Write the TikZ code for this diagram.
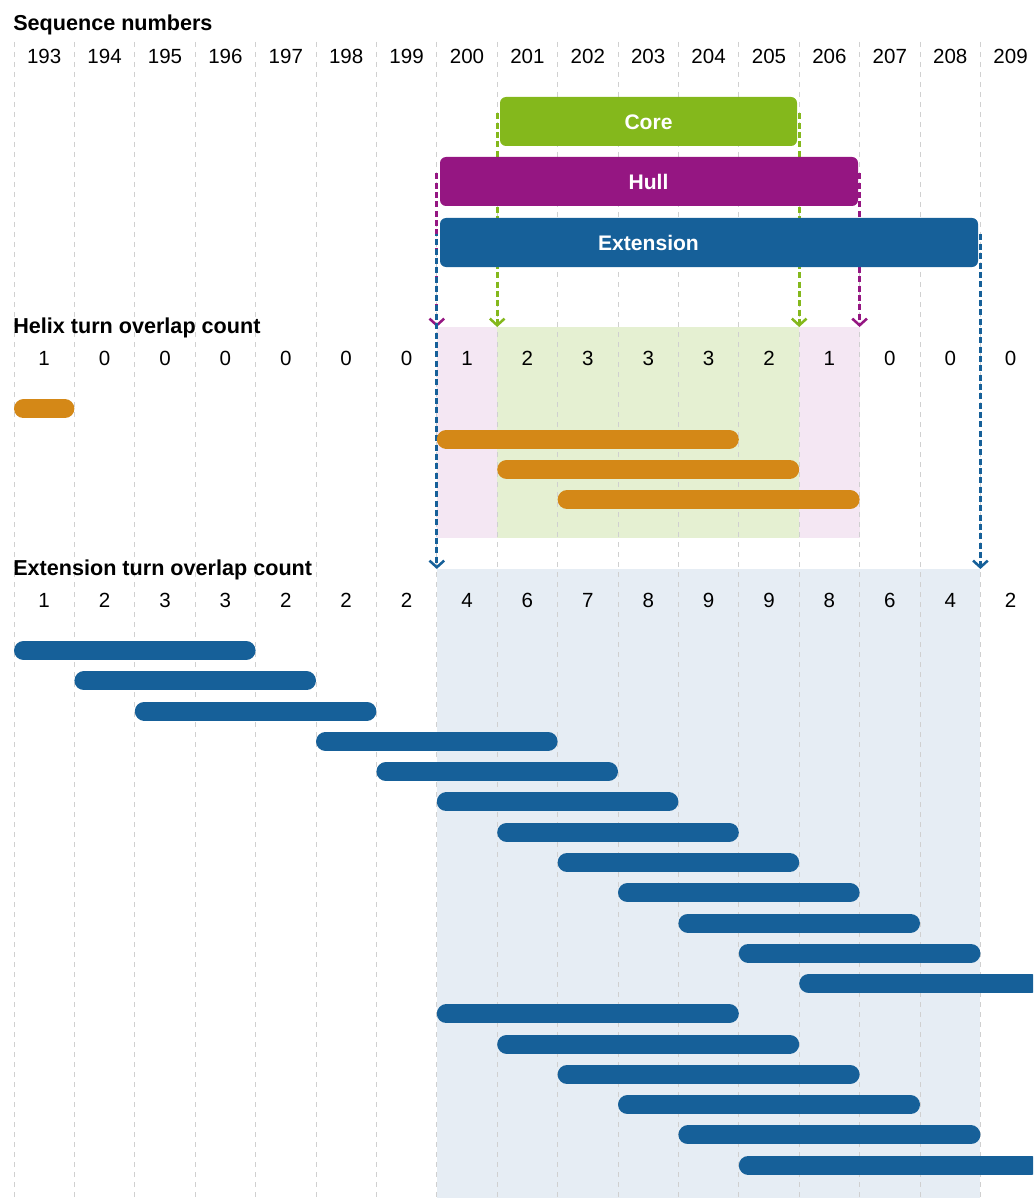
\documentclass[tikz,border=0pt]{standalone}
\usepackage{fontspec}
\setmainfont{Liberation Sans}
\usetikzlibrary{arrows.meta}

\definecolor{corecol}{HTML}{84B81C}
\definecolor{hullcol}{HTML}{951682}
\definecolor{extcol}{HTML}{166099}
\definecolor{helixcol}{HTML}{D48817}
\definecolor{coreshade}{HTML}{E5F0D2}
\definecolor{hullshade}{HTML}{F4E7F3}
\definecolor{extshade}{HTML}{E6EDF4}
\definecolor{gridcol}{HTML}{D0D0D0}

\pgfdeclarelayer{back}
\pgfsetlayers{back,main}

\begin{document}
\begin{tikzpicture}[
        x=0.75pt, y=-0.75pt,
        gridline/.style={gridcol, line width=0.75pt, dash pattern=on 3.4pt off 4.1pt},
        heading/.style={anchor=base west, inner sep=0pt, font=\fontsize{16.2}{19}\selectfont\bfseries},
        num/.style={anchor=base, inner sep=0pt, font=\fontsize{15.4}{19}\selectfont},
        region/.style={rounded corners=4.5pt, minimum height=36.75pt, inner sep=0pt},
        regionlabel/.style={anchor=base, inner sep=0pt, text=white, font=\fontsize{15.8}{19}\selectfont\bfseries},
        marker/.style={line width=2.5pt, dash pattern=on 4.5pt off 2.5pt, -{Straight Barb[length=5pt, width=11pt, line width=1.9pt]}},
        turn/.style={line width=14.25pt, line cap=round}
    ]
 \useasboundingbox (0,0) rectangle (1033,1198);
 \clip (0,0) rectangle (1033,1198);

 \coordinate (h7) at (436.8,327);
 \coordinate (h8) at (497.2,327);
 \coordinate (h13) at (799.2,327);
 \coordinate (h14) at (859.6,327);
 \coordinate (e7) at (436.8,569);
 \coordinate (e16) at (980.4,569);

 \node[region, fill=corecol, minimum width=222.75pt] (core) at (648.5,121.5) {};
 \node[region, fill=hullcol, minimum width=313.5pt] (hull) at (649,181.5) {};
 \node[region, fill=extcol, minimum width=403.5pt] (ext) at (709,242.5) {};

 \begin{pgfonlayer}{back}
  \fill[hullshade] (h7) rectangle (h14 |- 0,538);
  \fill[coreshade] (h8) rectangle (h13 |- 0,538);
  \fill[extshade] (e7) rectangle (e16 |- 0,1198);
  \foreach \i in {0,...,16}
   \draw[gridline] ({14+60.4*\i},42) -- ({14+60.4*\i},1198);
  \draw[marker, corecol] (h8 |- core.west) ++(0,-8) -- (h8);
  \draw[marker, corecol] (h13 |- core.east) ++(0,-8) -- (h13);
  \draw[marker, hullcol] (h7 |- hull.west) ++(0,-8) -- (h7);
  \draw[marker, hullcol] (h14 |- hull.east) ++(0,-8) -- (h14);
  \draw[marker, extcol, dash phase=3.5pt] (e7 |- ext.west) ++(0,-8) -- (e7);
  \draw[marker, extcol] (e16 |- ext.east) ++(0,-8) -- (e16);
 \end{pgfonlayer}

 \node[regionlabel] (corelabel) at (648.5,129.3) {Core};
 \node[regionlabel] (hulllabel) at (648.5,190) {Hull};
 \node[regionlabel] (extlabel) at (648.5,250.5) {Extension};

 \node[heading] (seqtitle) at (13,30.7) {Sequence numbers};
 \node[heading] (helixtitle) at (13,333.3) {Helix turn overlap count};
 \node[heading] (exttitle) at (13,575) {Extension turn overlap count};

 \foreach \n [count=\i from 0] in {193,...,209}
  \node[num] (seq\n) at ({14+60.4*(\i+0.5)},63.3) {\n};
 \foreach \c [count=\i from 0] in {1,0,0,0,0,0,0,1,2,3,3,3,2,1,0,0,0}
  \node[num] (helix\i) at ({14+60.4*(\i+0.5)},365) {\c};
 \foreach \c [count=\i from 0] in {1,2,3,3,2,2,2,4,6,7,8,9,9,8,6,4,2}
  \node[num] (extcount\i) at ({14+60.4*(\i+0.5)},607.6) {\c};

 \foreach \a/\b [count=\k from 0] in {0/0,7/11,8/12,9/13}
  \draw[turn, helixcol] ({14+60.4*\a+9.5},{408.8+30.28*\k}) -- ({14+60.4*(\b+1)-9.5},{408.8+30.28*\k});
 \foreach \a/\b [count=\k from 0] in {0/3,1/4,2/5,5/8,6/9,7/10,8/11,9/12,10/13,11/14,12/15,13/16,7/11,8/12,9/13,10/14,11/15,12/16}
  \draw[turn, extcol] ({14+60.4*\a+9.5},{650.5+30.28*\k}) -- ({14+60.4*(\b+1)-9.5},{650.5+30.28*\k});
\end{tikzpicture}
\end{document}
